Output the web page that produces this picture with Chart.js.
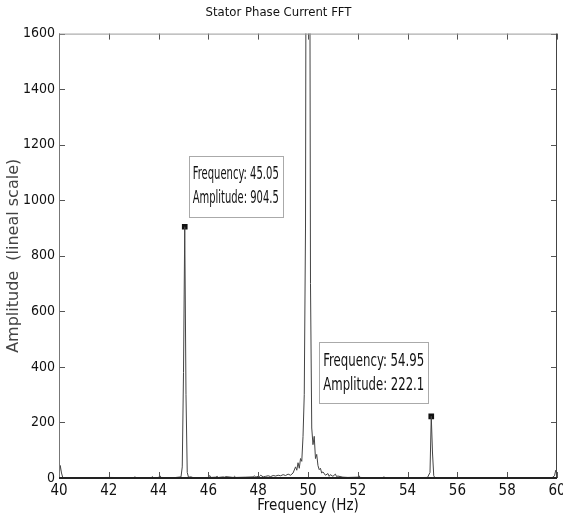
<!DOCTYPE html>
<html>
<head>
<meta charset="utf-8">
<script src="https://cdn.jsdelivr.net/npm/chart.js@4.4.0/dist/chart.umd.min.js"></script>
<style>
  html, body { margin: 0; padding: 0; background: #fff; }
  #wrap { width: 563px; height: 523px; }
</style>
</head>
<body>
<div id="wrap"><canvas id="fftChart" width="563" height="523"></canvas></div>
<script>
// spectrum (Hz, amplitude)
const freqHz = [
  40.00, 40.05, 40.10, 40.15, 40.30, 41.00, 42.00, 43.00, 43.05, 43.10,
  43.70, 43.75, 43.80, 44.00, 44.05, 44.10, 44.60, 44.90, 44.95, 45.00,
  45.05, 45.10, 45.15, 45.20, 45.30, 45.40, 46.00, 46.05, 46.10, 46.30,
  46.35, 46.40, 46.60, 46.65, 46.70, 47.00, 47.05, 47.10, 47.50, 47.80,
  47.85, 47.90, 48.00, 48.05, 48.10, 48.20, 48.30, 48.40, 48.50, 48.60,
  48.70, 48.80, 48.90, 49.00, 49.10, 49.20, 49.30, 49.40, 49.50, 49.55,
  49.60, 49.65, 49.70, 49.75, 49.80, 49.85, 49.90, 49.95, 50.00, 50.05,
  50.10, 50.15, 50.20, 50.25, 50.30, 50.35, 50.40, 50.45, 50.50, 50.55,
  50.60, 50.70, 50.80, 50.85, 50.90, 51.00, 51.10, 51.15, 51.20, 51.40,
  51.60, 52.00, 52.05, 52.10, 52.50, 53.00, 53.05, 53.10, 54.00, 54.80,
  54.90, 54.95, 55.00, 55.05, 55.10, 56.00, 57.00, 58.00, 59.80, 59.90,
  59.95, 60.00
];
const amplitude = [
  8, 45, 18, 2, 1, 1, 2, 1, 4, 1,
  1, 5, 1, 2, 8, 2, 1, 4, 40, 380,
  904.5, 300, 20, 3, 4, 1, 2, 9, 2, 3,
  6, 2, 4, 3, 5, 2, 6, 2, 3, 4,
  8, 3, 6, 5, 10, 4, 6, 8, 5, 9,
  7, 10, 8, 12, 9, 14, 10, 18, 40, 28,
  55, 35, 70, 60, 150, 300, 900, 3500, 9000, 3000,
  700, 180, 120, 150, 70, 85, 45, 30, 35, 18,
  22, 10, 16, 6, 12, 6, 14, 5, 7, 3,
  2, 3, 8, 2, 1, 1, 4, 1, 1, 2,
  20, 222.1, 90, 8, 1, 1, 1, 1, 1, 8,
  28, 12
];

// data tips shown on the figure
const markerFreq = [45.05, 54.95];
const markerAmp = [904.5, 222.1];

const xTicks = [40, 42, 44, 46, 48, 50, 52, 54, 56, 58, 60];
const yTicks = [0, 200, 400, 600, 800, 1000, 1200, 1400, 1600];

const narrow = "'Liberation Sans Narrow', 'DejaVu Sans Condensed', sans-serif";

const spectrum = freqHz.map((f, i) => ({ x: f, y: amplitude[i] }));
const tips = markerFreq.map((f, i) => ({ x: f, y: markerAmp[i] }));

// box around the axes with short inward ticks (matlab look)
const frameTicks = {
  id: 'frameTicks',
  afterDatasetsDraw(chart) {
    const { ctx, chartArea: a, scales } = chart;
    const len = 6;
    ctx.save();
    ctx.lineWidth = 1;
    ctx.strokeStyle = '#555';
    ctx.beginPath();
    xTicks.forEach(v => {
      const px = Math.round(scales.x.getPixelForValue(v)) + 0.5;
      ctx.moveTo(px, a.bottom); ctx.lineTo(px, a.bottom - len);
      ctx.moveTo(px, a.top); ctx.lineTo(px, a.top + len);
    });
    yTicks.forEach(v => {
      const py = Math.round(scales.y.getPixelForValue(v)) + 0.5;
      ctx.moveTo(a.left, py); ctx.lineTo(a.left + len, py);
      ctx.moveTo(a.right, py); ctx.lineTo(a.right - len, py);
    });
    ctx.stroke();

    ctx.strokeStyle = '#999';
    ctx.beginPath(); ctx.moveTo(a.left, a.top + 0.5); ctx.lineTo(a.right, a.top + 0.5); ctx.stroke();
    ctx.strokeStyle = '#777';
    ctx.beginPath(); ctx.moveTo(a.left + 0.5, a.top); ctx.lineTo(a.left + 0.5, a.bottom); ctx.stroke();
    ctx.strokeStyle = '#444';
    ctx.beginPath(); ctx.moveTo(a.right - 0.5, a.top); ctx.lineTo(a.right - 0.5, a.bottom); ctx.stroke();
    ctx.strokeStyle = '#222';
    ctx.lineWidth = 2;
    ctx.beginPath(); ctx.moveTo(a.left, a.bottom); ctx.lineTo(a.right, a.bottom); ctx.stroke();
    ctx.restore();
  }
};

// squeeze a line of text into a given width (the figure uses a condensed face)
function fitText(c, txt, x, y, maxW) {
  const w = c.measureText(txt).width;
  const k = Math.min(1, maxW / w);
  c.save();
  c.translate(x, y);
  c.scale(k, 1);
  c.fillText(txt, 0, 0);
  c.restore();
}

// the two data-tip boxes
const dataTips = {
  id: 'dataTips',
  afterDraw(chart) {
    const { ctx, scales } = chart;
    ctx.save();
    ctx.font = '18px ' + narrow;
    ctx.textBaseline = 'middle';
    markerFreq.forEach((f, i) => {
      const px = scales.x.getPixelForValue(f);
      const py = scales.y.getPixelForValue(markerAmp[i]);
      const w = i === 0 ? 94 : 109, h = 61;
      let left, top;
      if (i === 0) { left = px + 4; top = py - 71; }
      else { left = px - 3 - w; top = py - 74; }
      ctx.fillStyle = '#fff';
      ctx.fillRect(left, top, w, h);
      ctx.strokeStyle = '#aaa';
      ctx.lineWidth = 1;
      ctx.strokeRect(Math.round(left) + 0.5, Math.round(top) + 0.5, w, h);
      ctx.fillStyle = '#111';
      const tw = w - 8;
      fitText(ctx, 'Frequency: ' + f.toFixed(2), left + 4, top + 19, tw);
      fitText(ctx, 'Amplitude: ' + markerAmp[i].toFixed(1), left + 4, top + 43, tw);
    });
    ctx.restore();
  }
};

const ctx = document.getElementById('fftChart').getContext('2d');
const fftChart = new Chart(ctx, {
  type: 'line',
  data: {
    datasets: [{
      label: 'FFT',
      data: spectrum,
      borderColor: '#444',
      borderWidth: 1,
      pointRadius: 0,
      tension: 0,
      fill: false
    }, {
      label: 'tips',
      data: tips,
      showLine: false,
      pointStyle: 'rect',
      pointRadius: 4,
      backgroundColor: '#111',
      borderColor: '#111',
      borderWidth: 0
    }]
  },
  options: {
    responsive: false,
    animation: false,
    layout: { padding: { left: 0, right: 6, top: 0, bottom: 0 } },
    plugins: {
      legend: { display: false },
      tooltip: { enabled: false },
      title: {
        display: true,
        text: 'Stator Phase Current FFT',
        color: '#111',
        font: { family: narrow, size: 13, weight: 'normal' },
        padding: { top: 5, bottom: 13 }
      }
    },
    scales: {
      x: {
        type: 'linear',
        min: 40,
        max: 60,
        afterFit: s => { s.height = 45; s.paddingLeft = 0; s.paddingRight = 0; },
        afterBuildTicks: s => { s.ticks = xTicks.map(v => ({ value: v })); },
        grid: { display: false, drawTicks: false },
        border: { display: false },
        ticks: {
          color: '#111',
          padding: 4,
          font: { family: narrow, size: 15 },
          callback: v => String(v)
        },
        title: {
          display: true,
          text: 'Frequency (Hz)',
          color: '#111',
          font: { family: narrow, size: 15 },
          padding: { top: 0, bottom: 8 }
        }
      },
      y: {
        type: 'linear',
        min: 0,
        max: 1600,
        afterFit: s => { s.width = 59; },
        afterBuildTicks: s => { s.ticks = yTicks.map(v => ({ value: v })); },
        grid: { display: false, drawTicks: false },
        border: { display: false },
        ticks: {
          color: '#111',
          padding: 4,
          font: { family: narrow, size: 14 },
          callback: v => String(v)
        },
        title: {
          display: true,
          text: 'Amplitude  (lineal scale)',
          color: '#444',
          font: { family: "'DejaVu Sans', sans-serif", size: 16 },
          padding: { top: 4, bottom: 0 }
        }
      }
    }
  },
  plugins: [frameTicks, dataTips]
});
</script>
</body>
</html>
